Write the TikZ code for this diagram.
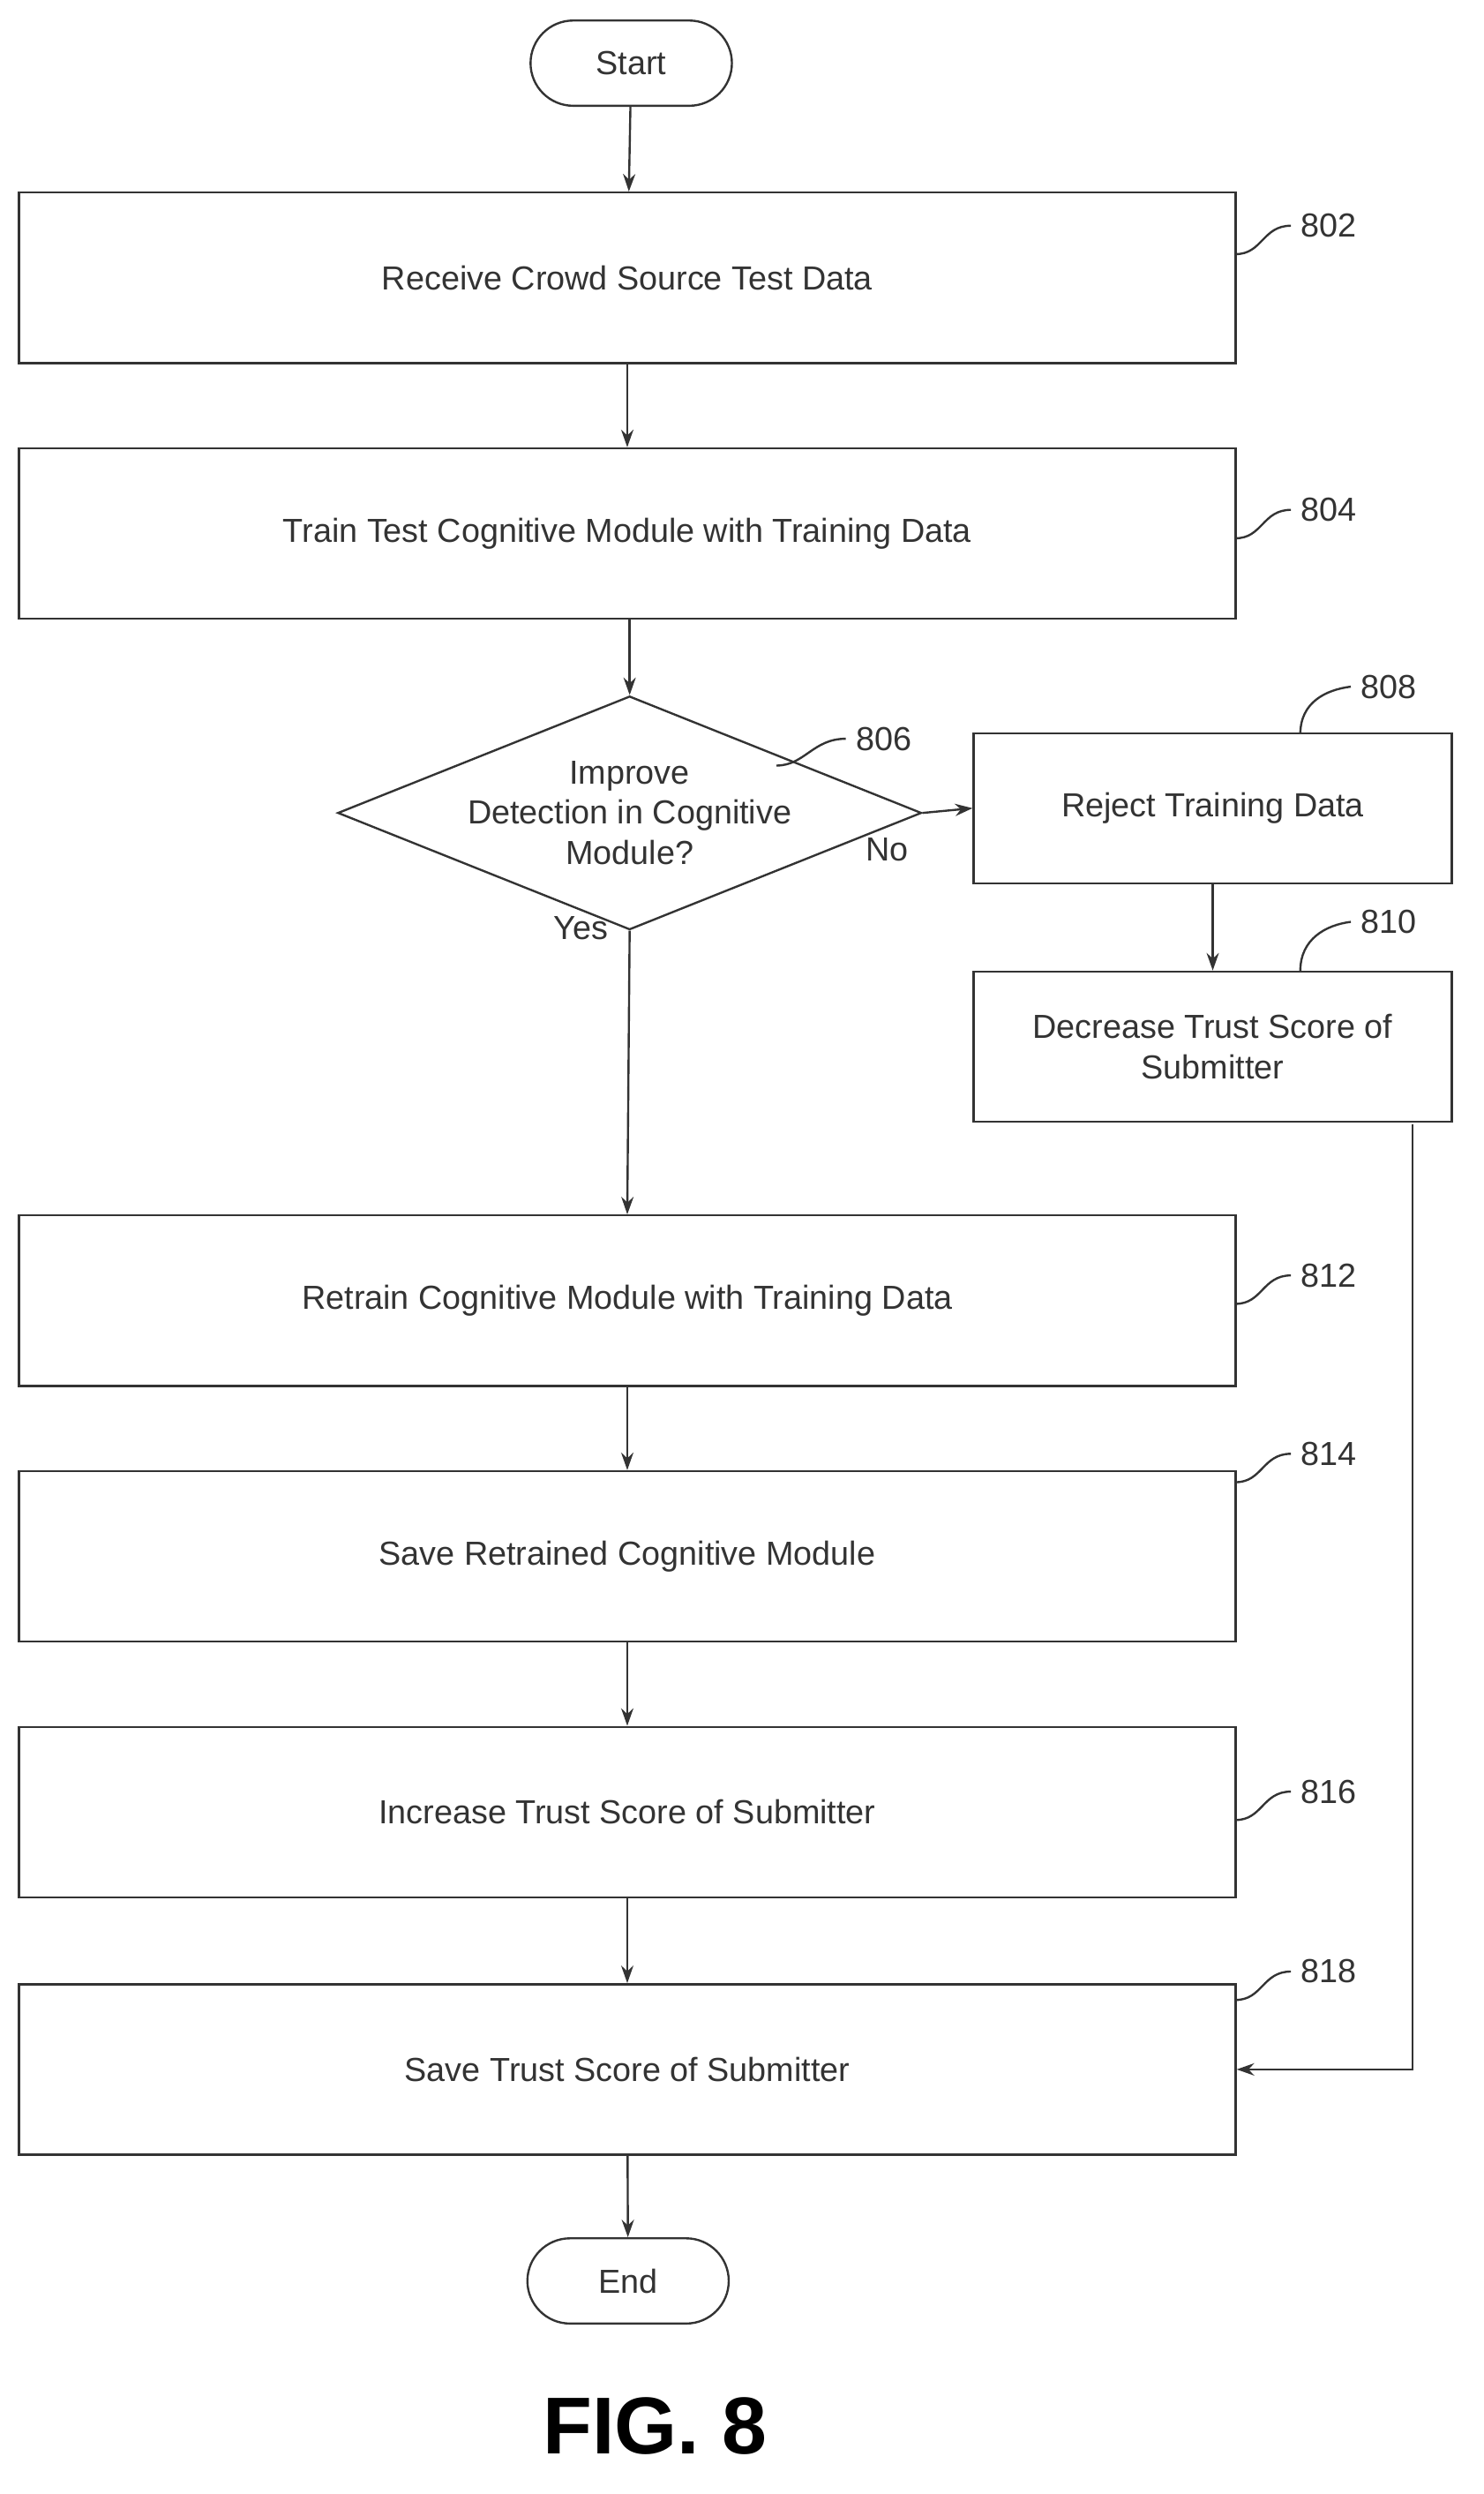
\documentclass[tikz,border=0pt]{standalone}
\usepackage{fontspec}
\setmainfont{Liberation Sans}
\usetikzlibrary{shapes.geometric,shapes.misc,arrows.meta}
\begin{document}
\begin{tikzpicture}[x=0.9pt,y=-0.9pt,
  box/.style={draw=black!80,line width=1.2pt,minimum width=771*0.9pt,minimum height=108*0.9pt,inner sep=0pt,font=\fontsize{19}{23}\selectfont\color{black!80},align=center},
  sbox/.style={box,minimum width=303*0.9pt,minimum height=95*0.9pt},
  term/.style={draw=black!80,line width=1.2pt,rounded rectangle,minimum width=135*0.9pt,minimum height=54*0.9pt,font=\fontsize{19}{23}\selectfont\color{black!80}},
  arr/.style={draw=black!80,line width=1.2pt,-{Stealth[length=10pt,width=7pt]}},
  lead/.style={draw=black!80,line width=1.2pt},
  lab/.style={font=\fontsize{19}{23}\selectfont\color{black!80}}]
\useasboundingbox (0,0) rectangle (940,1580);
\node[term] (start) at (400,40) {Start};
\node[box] (b802) at (397.5,176) {Receive Crowd Source Test Data};
\node[box] (b804) at (397.5,338) {Train Test Cognitive Module with Training Data};
\node[diamond,draw=black!80,line width=1.2pt,aspect=2.5,minimum width=318*0.9pt,minimum height=126*0.9pt,inner sep=0pt,align=center,font=\fontsize{19}{23}\selectfont\color{black!80}] (d806) at (399,515) {Improve\\Detection in Cognitive\\Module?};
\node[sbox] (b808) at (768.5,512) {Reject Training Data};
\node[sbox] (b810) at (768.5,663) {Decrease Trust Score of\\Submitter};
\node[box] (b812) at (397.5,824) {Retrain Cognitive Module with Training Data};
\node[box] (b814) at (397.5,986) {Save Retrained Cognitive Module};
\node[box] (b816) at (397.5,1148) {Increase Trust Score of Submitter};
\node[box] (b818) at (397.5,1311) {Save Trust Score of Submitter};
\node[term] (end) at (398,1445) {End};
\node[font=\fontsize{46}{50}\selectfont\bfseries] (fig) at (415,1537) {FIG. 8};
\node[lab] (no) at (562,538) {No};
\node[lab] (yes) at (368,588) {Yes};

\draw[arr] (start) -- (b802);
\draw[arr] (b802) -- (b804);
\draw[arr] (b804.south -| d806.north) -- (d806.north);
\draw[arr] (d806.east) -- (b808.west);
\draw[arr] (d806.south) -- (b812.north);
\draw[arr] (b808) -- (b810);
\draw[arr] (b812) -- (b814);
\draw[arr] (b814) -- (b816);
\draw[arr] (b816) -- (b818);
\draw[arr] (b818) -- (end);
\coordinate (c1) at (895,712);
\coordinate (c2) at (895,1311);
\draw[arr] (c1) -- (c2) -- (b818.east);

\foreach \n/\y/\ly in {802/176/143,804/338/323,812/824/808,814/986/921,816/1148/1135,818/1311/1249}{
  \node[lab] (l\n) at (842,\ly) {\n};
  \draw[lead] (783,\ly+18) .. controls (800,\ly+18) and (800,\ly) .. (818,\ly);
}
\node[lab] (l806) at (560,468) {806};
\draw[lead] (492,485) .. controls (510,485) and (515,468) .. (536,468);
\node[lab] (l808) at (880,435) {808};
\draw[lead] (824,465) .. controls (824,445) and (840,437) .. (856,435);
\node[lab] (l810) at (880,584) {810};
\draw[lead] (824,615) .. controls (824,595) and (840,586) .. (856,584);
\end{tikzpicture}
\end{document}
